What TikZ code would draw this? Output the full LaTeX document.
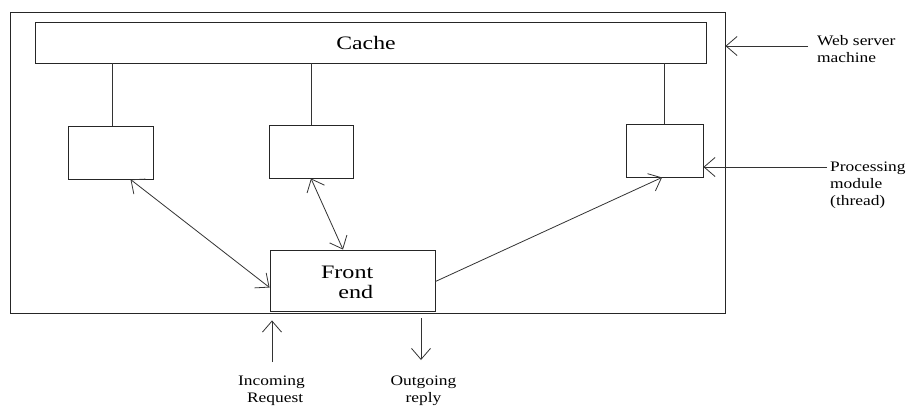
\documentclass[tikz,border=0pt]{standalone}
\usepackage{fontspec}
\setmainfont{Liberation Serif}
\usetikzlibrary{arrows.meta,calc}
\newcommand{\stretchtxt}[2]{\scalebox{#1}[1]{#2}}
\begin{document}
\begin{tikzpicture}[x=1pt,y=-1pt,
  box/.style={draw=black!85, line width=0.9pt, inner sep=0pt, rectangle},
  conn/.style={draw=black!80, line width=0.8pt},
  >={Straight Barb[length=11pt,width=19pt,line width=0.8pt]},
  lbl/.style={inner sep=0pt, font=\fontsize{14.5}{17}\selectfont},
  big/.style={inner sep=0pt, font=\fontsize{19}{20}\selectfont}]
\useasboundingbox (0,0) rectangle (908,405);
\fill[white] (0,0) rectangle (908,405);
% boxes
\node[box, minimum width=715pt, minimum height=301pt] (outer) at (367.5,162.5) {};
\node[box, minimum width=671pt, minimum height=41pt] (cache) at (370.5,42.5) {};
\node[big] (cachetext) at (366,43) {\stretchtxt{1.25}{Cache}};
\node[box, minimum width=85pt, minimum height=53pt] (b1) at (110.5,152.5) {};
\node[box, minimum width=84pt, minimum height=53pt] (b2) at (311,151.5) {};
\node[box, minimum width=77pt, minimum height=53pt] (b3) at (664.5,150.5) {};
\node[box, minimum width=165pt, minimum height=61pt] (fe) at (352.5,280.5) {};
\node[big, anchor=base east] (fetext) at (373.5,278) {\stretchtxt{1.27}{\begin{tabular}[t]{@{}r@{}}Front\\end\end{tabular}}};
% cache links
\draw[conn] ([xshift=2pt]b1.north) -- ([xshift=2pt]b1.north |- cache.south);
\draw[conn] (b2.north) -- (b2.north |- cache.south);
\draw[conn] (b3.north) -- (b3.north |- cache.south);
% arrows between modules and front end
\draw[conn,<->] ([xshift=20pt]b1.south) -- ([yshift=-7pt]fe.west);
\draw[conn,<->] (b2.south) -- ([xshift=-9.5pt]fe.north);
\draw[conn,->] ([yshift=-1pt]fe.east) -- ([xshift=-2.5pt]b3.south);
% side labels
\coordinate (wsA) at (808,46);
\draw[conn,->] (wsA) -- (wsA -| outer.east);
\node[lbl, anchor=base west] (ws) at (817,45) {\stretchtxt{1.2}{\begin{tabular}[t]{@{}l@{}}Web server\\machine\end{tabular}}};
\coordinate (pmA) at (827,167);
\draw[conn,->] (pmA) -- (pmA -| b3.east);
\node[lbl, anchor=base west] (pm) at (830,171) {\stretchtxt{1.2}{\begin{tabular}[t]{@{}l@{}}Processing\\module\\(thread)\end{tabular}}};
% bottom arrows
\coordinate (inA) at (272,362);
\draw[conn,->] (inA) -- ($(inA |- outer.south)+(0,7)$);
\node[lbl, anchor=base] (inl) at (271.5,385) {\stretchtxt{1.2}{\begin{tabular}[t]{@{}c@{}}Incoming\\\hspace*{6pt}Request\end{tabular}}};
\coordinate (outA) at (421,360);
\draw[conn,->] ($(outA |- outer.south)+(0,5)$) -- (outA);
\node[lbl, anchor=base] (outl) at (423.5,385) {\stretchtxt{1.2}{\begin{tabular}[t]{@{}c@{}}Outgoing\\reply\end{tabular}}};
\end{tikzpicture}
\end{document}
